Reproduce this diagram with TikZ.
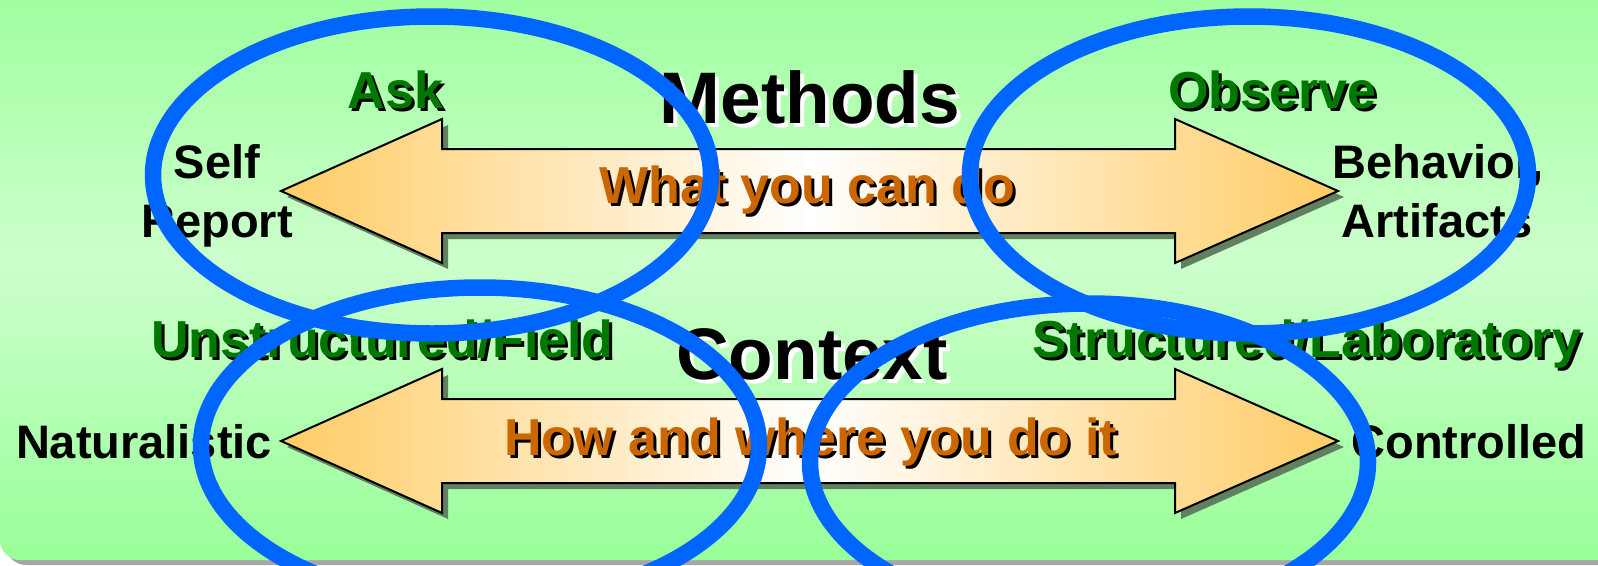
\documentclass[tikz,border=0pt]{standalone}
\usepackage{fontspec}
\setmainfont{Liberation Sans}
\definecolor{bgedge}{RGB}{153,255,153}
\definecolor{bgmid}{RGB}{204,255,204}
\definecolor{arrowc}{RGB}{255,204,102}
\definecolor{shadowc}{RGB}{96,128,96}
\definecolor{labgreen}{RGB}{0,120,0}
\definecolor{laborange}{RGB}{204,102,0}
\definecolor{ringblue}{RGB}{0,102,255}
% text with a drop shadow: #1 shadow colour, #2 text colour, #3 offset, #4 text
\newcommand\shadowtxt[4]{\makebox[0pt][l]{\hspace{#3}\raisebox{-#3}{\textcolor{#1}{#4}}}\textcolor{#2}{#4}}
\begin{document}
\begin{tikzpicture}[x=1pt,y=-1pt,
  plain/.style={font=\bfseries\fontsize{47}{56}\selectfont, anchor=base, inner sep=0pt, text=black},
  lbl/.style={font=\bfseries\fontsize{52}{60}\selectfont, anchor=base, inner sep=0pt},
  ttl/.style={font=\bfseries\fontsize{73}{80}\selectfont, anchor=base, inner sep=0pt},
  arrowshadow/.style={fill=shadowc},
  arrowbody/.style={draw=black, line width=2pt, left color=arrowc, right color=arrowc, middle color=white},
  ring/.style={draw=ringblue, line width=16.5pt}
]
\useasboundingbox (0,0) rectangle (1598,565);
\clip (0,0) rectangle (1598,565);
% background panel with shadow
\fill[gray!70, rounded corners=20pt] (6,-40) rectangle (1640,565);
\path[rounded corners=20pt, top color=bgedge, bottom color=bgedge, middle color=bgmid] (0,-40) rectangle (1640,560);
% double arrows
\foreach \cy/\nm in {191/meth,441/cont} {
  \begin{scope}[shift={(0,\cy)}]
    \fill[arrowshadow, shift={(6,6)}] (281,0) -- (442,-72) -- (442,-42) -- (1175,-42) -- (1175,-72) -- (1338,0) -- (1175,72) -- (1175,42) -- (442,42) -- (442,72) -- cycle;
    \path[arrowbody] (281,0) -- (442,-72) -- (442,-42) -- (1175,-42) -- (1175,-72) -- (1338,0) -- (1175,72) -- (1175,42) -- (442,42) -- (442,72) -- cycle;
    \coordinate (\nm L) at (281,0);
    \coordinate (\nm R) at (1338,0);
  \end{scope}
}
% titles
\node[ttl] (meth) at (810,123) {\shadowtxt{white}{black}{4pt}{Methods}};
\node[ttl] (cont) at (812,379) {\shadowtxt{white}{black}{4pt}{Context}};
% green labels
\node[lbl] (ask) at (395.5,108) {\shadowtxt{black}{labgreen}{3pt}{Ask}};
\node[lbl] (obs) at (1272.5,108) {\shadowtxt{black}{labgreen}{3pt}{Observe}};
\node[lbl] (uf) at (382.5,357) {\shadowtxt{black}{labgreen}{3pt}{Unstructured/Field}};
\node[lbl] (sl) at (1306.5,357) {\shadowtxt{black}{labgreen}{3pt}{Structured/Laboratory}};
% orange labels in arrows
\node[lbl] (wycd) at (807.5,203) {\shadowtxt{black}{laborange}{3pt}{What you can do}};
\node[lbl] (hw) at (810.5,455) {\shadowtxt{black}{laborange}{3pt}{How and where you do it}};
% end labels
\node[plain] (self) at (217,178) {Self};
\node[plain] (report) at (217,237) {Report};
\node[plain] (behav) at (1438,178) {Behavior,};
\node[plain] (artif) at (1437,237) {Artifacts};
\node[plain] (natur) at (144,458) {Naturalistic};
\node[plain] (contr) at (1469,458) {Controlled};
% blue rings
\draw[ring] (432,175) ellipse [x radius=279pt, y radius=158.5pt];
\draw[ring] (1249,175) ellipse [x radius=279pt, y radius=158.5pt];
\draw[ring] (480,446) ellipse [x radius=279pt, y radius=158.5pt];
\draw[ring] (1089,462) ellipse [x radius=279pt, y radius=158.5pt];
\end{tikzpicture}
\end{document}
